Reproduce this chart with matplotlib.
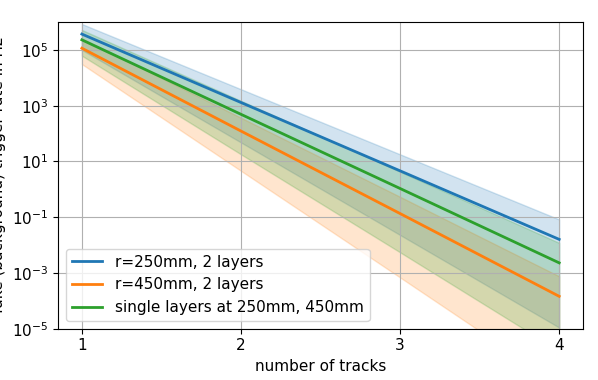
import matplotlib

matplotlib.use('Agg')

import matplotlib.pyplot as plt
import numpy as np

# number of tracks
n_tracks = [1, 2, 3, 4]

# fake trigger rates in Hz (central, upper, lower)
rate_250 = [3.7e5, 1.3e3, 4.6, 1.6e-2]
rate_250_hi = [8.5e5, 3.9e3, 18.0, 8.3e-2]
rate_250_lo = [1.0e5, 48.0, 2.3e-2, 1.1e-5]

rate_450 = [1.15e5, 123.0, 0.135, 1.45e-4]
rate_450_hi = [2.6e5, 370.0, 0.54, 7.6e-4]
rate_450_lo = [3.1e4, 4.6, 6.9e-4, 1.0e-7]

rate_single = [2.3e5, 490.0, 1.07, 2.3e-3]
rate_single_hi = [5.2e5, 1.5e3, 4.3, 1.2e-2]
rate_single_lo = [6.2e4, 18.0, 5.5e-3, 1.6e-6]

labels = ['r=250mm, 2 layers', 'r=450mm, 2 layers', 'single layers at 250mm, 450mm']

fig = plt.figure(figsize=(5.98, 3.80), dpi=100)
ax = fig.add_axes([0.097, 0.135, 0.878, 0.807])

series = [
    (rate_250, rate_250_lo, rate_250_hi, 'C0'),
    (rate_450, rate_450_lo, rate_450_hi, 'C1'),
    (rate_single, rate_single_lo, rate_single_hi, 'C2'),
]
for (mid, lo, hi, col), lab in zip(series, labels):
    ax.plot(n_tracks, mid, color=col, lw=2, label=lab)
    ax.fill_between(n_tracks, lo, hi, color=col, alpha=0.2)

ax.set_yscale('log')
ax.set_ylim(1e-5, 1e6)
ax.set_yticks([1e-5, 1e-3, 1e-1, 1e1, 1e3, 1e5])
ax.set_xticks(n_tracks)
ax.tick_params(labelsize=11)
ax.grid(True, which='major')
ax.set_xlabel('number of tracks', fontsize=11)
ax.set_ylabel('fake (background) trigger rate in Hz', fontsize=11)
ax.legend(loc='lower left', fontsize=11)

fig.savefig('out.png', dpi=100)
